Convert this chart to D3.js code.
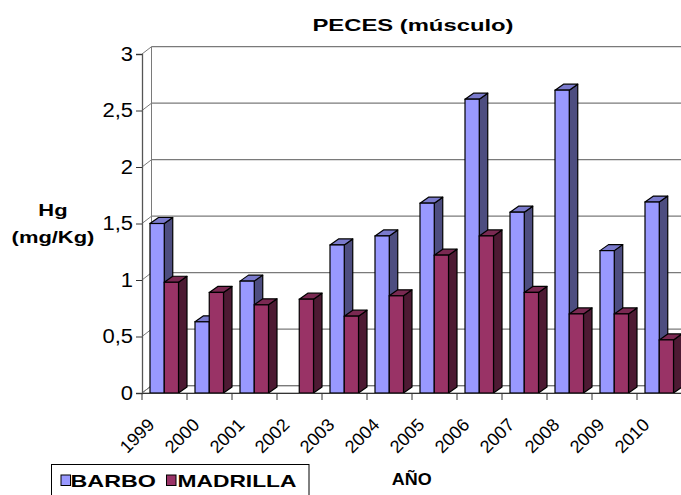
<!DOCTYPE html>
<html>
<head>
<meta charset="utf-8">
<script src="https://cdn.jsdelivr.net/npm/d3@7"></script>
<style>
  body { margin: 0; background: #fff; }
  text { font-family: "Liberation Sans", Arial, sans-serif; }
</style>
</head>
<body>
<div id="chart"></div>
<script>
// data
var years = ["1999", "2000", "2001", "2002", "2003", "2004", "2005", "2006", "2007", "2008", "2009", "2010"];
var barbo = [1.50, 0.63, 0.99, null, 1.31, 1.39, 1.68, 2.60, 1.60, 2.68, 1.26, 1.69];
var madrilla = [0.98, 0.89, 0.78, 0.83, 0.68, 0.86, 1.22, 1.39, 0.89, 0.70, 0.70, 0.47];
var seriesNames = ["BARBO", "MADRILLA"];
var yTicks = [0, 0.5, 1, 1.5, 2, 2.5, 3];

var W = 681, H = 495;
var colors = {
  BARBO:    {front: "#9999FF", side: "#4D4D80", top: "#7A7ACC"},
  MADRILLA: {front: "#993366", side: "#4D1A33", top: "#7A2952"}
};
// depth of the back wall and of the bars
var wallDx = 9.5, wallDy = -7.3;
var barDx = 8.5, barDy = -6;

var svg = d3.select("#chart")
  .append("svg")
    .attr("width", W)
    .attr("height", H);

var x = d3.scaleBand()
  .domain(years)
  .range([142, 682]);

var xs = d3.scaleBand()
  .domain(seriesNames)
  .range([8, 36.5]);

var y = d3.scaleLinear()
  .domain([0, 3])
  .range([393, 54]);

// stretch a text to a wider look like the original
function stretch(sel, k) {
  sel.each(function() {
    var len = this.getComputedTextLength();
    d3.select(this).attr("textLength", len * k).attr("lengthAdjust", "spacingAndGlyphs");
  });
}

var x0 = x.range()[0];
var gridColor = "#7a7a7a";

// floor
svg.append("polygon")
  .attr("points", [[x0, y(0)], [W + 5, y(0)], [W + 5, y(0) + wallDy], [x0 + wallDx, y(0) + wallDy]].join(" "))
  .attr("fill", "#fff")
  .attr("stroke", gridColor)
  .attr("stroke-width", 1);

// back wall gridlines and side wall diagonals
var grid = svg.append("g");
grid.selectAll("line.h")
  .data(yTicks)
  .enter()
  .append("line")
    .attr("x1", x0 + wallDx)
    .attr("x2", W)
    .attr("y1", function(d) { return y(d) + wallDy; })
    .attr("y2", function(d) { return y(d) + wallDy; })
    .attr("stroke", gridColor)
    .attr("stroke-width", 1.3);
grid.selectAll("line.d")
  .data(yTicks)
  .enter()
  .append("line")
    .attr("x1", x0)
    .attr("x2", x0 + wallDx)
    .attr("y1", function(d) { return y(d); })
    .attr("y2", function(d) { return y(d) + wallDy; })
    .attr("stroke", gridColor)
    .attr("stroke-width", 1);
grid.append("line")
  .attr("x1", x0 + wallDx).attr("x2", x0 + wallDx)
  .attr("y1", y(3) + wallDy).attr("y2", y(0) + wallDy)
  .attr("stroke", gridColor).attr("stroke-width", 1);

// 3D bars
function drawSeries(name, values) {
  var c = colors[name];
  var g = svg.append("g");
  var bars = years.map(function(yr, i) { return {year: yr, v: values[i]}; })
    .filter(function(d) { return d.v != null; });
  var bar = g.selectAll("g")
    .data(bars)
    .enter()
    .append("g");
  bar.append("polygon")
    .attr("points", function(d) {
      var xl = x(d.year) + xs(name), xr = xl + xs.bandwidth(), yt = y(d.v), yb = y(0);
      return [[xr, yt], [xr + barDx, yt + barDy], [xr + barDx, yb + barDy], [xr, yb]].join(" ");
    })
    .attr("fill", c.side).attr("stroke", "#000").attr("stroke-width", 1.2).attr("stroke-linejoin", "round");
  bar.append("polygon")
    .attr("points", function(d) {
      var xl = x(d.year) + xs(name), xr = xl + xs.bandwidth(), yt = y(d.v);
      return [[xl, yt], [xl + barDx, yt + barDy], [xr + barDx, yt + barDy], [xr, yt]].join(" ");
    })
    .attr("fill", c.top).attr("stroke", "#000").attr("stroke-width", 1.2).attr("stroke-linejoin", "round");
  bar.append("rect")
    .attr("x", function(d) { return x(d.year) + xs(name); })
    .attr("y", function(d) { return y(d.v); })
    .attr("width", xs.bandwidth())
    .attr("height", function(d) { return y(0) - y(d.v); })
    .attr("fill", c.front).attr("stroke", "#000").attr("stroke-width", 1.2);
}
drawSeries("BARBO", barbo);
drawSeries("MADRILLA", madrilla);

// Y axis
var yAxis = svg.append("g")
  .attr("transform", "translate(" + x0 + ",0)")
  .call(d3.axisLeft(y).tickValues(yTicks).tickSize(6).tickPadding(3)
    .tickFormat(function(d) { return String(d).replace(".", ","); }));
yAxis.select(".domain").attr("stroke", "#555").attr("stroke-width", 1.3);
yAxis.selectAll(".tick line").attr("stroke", "#333");
yAxis.selectAll(".tick text")
  .attr("font-family", "Liberation Sans, Arial, sans-serif")
  .style("font-size", "20px").attr("fill", "#000");
stretch(yAxis.selectAll(".tick text"), 1.1);

// X axis
var xAxis = svg.append("g")
  .attr("transform", "translate(0," + y(0) + ")")
  .call(d3.axisBottom(x).tickSize(0).tickFormat(""));
xAxis.select(".domain").attr("stroke", "#333").attr("stroke-width", 1.2);
xAxis.selectAll("line.bnd")
  .data(years.concat(["end"]))
  .enter()
  .append("line")
    .attr("x1", function(d, i) { return x0 + i * x.step(); })
    .attr("x2", function(d, i) { return x0 + i * x.step(); })
    .attr("y1", 0).attr("y2", 7)
    .attr("stroke", "#333");
svg.append("g").selectAll("text")
  .data(years)
  .enter()
  .append("text")
    .attr("transform", function(d) {
      return "translate(" + (x(d) + x.bandwidth() / 2 - 9) + "," + 426 + ") rotate(-45)";
    })
    .attr("text-anchor", "end")
    .style("font-size", "18px")
    .text(function(d) { return d; });

// title
var title = svg.append("text")
  .attr("x", 413).attr("y", 30.5)
  .attr("text-anchor", "middle")
  .style("font-size", "17px").style("font-weight", "bold")
  .text("PECES (músculo)");
stretch(title, 1.4);

// y label
var yl = svg.append("text")
  .attr("text-anchor", "middle")
  .style("font-size", "17px").style("font-weight", "bold");
yl.append("tspan").attr("x", 53).attr("y", 216).text("Hg");
yl.append("tspan").attr("x", 53).attr("y", 243).text("(mg/Kg)");
yl.selectAll("tspan").each(function() {
  var len = this.getComputedTextLength();
  d3.select(this).attr("textLength", len * 1.29).attr("lengthAdjust", "spacingAndGlyphs");
});

// x label
var xt = svg.append("text")
  .attr("x", 411.7).attr("y", 485)
  .attr("text-anchor", "middle")
  .style("font-size", "16px").style("font-weight", "bold")
  .text("AÑO");
stretch(xt, 1.12);

// legend
var legend = svg.append("g");
legend.append("rect")
  .attr("x", 51.5).attr("y", 464.5)
  .attr("width", 257.5).attr("height", 40)
  .attr("fill", "#fff").attr("stroke", "#000").attr("stroke-width", 1);
var legX = [61, 166.5];
var legText = [70.5, 177.5];
seriesNames.forEach(function(name, i) {
  legend.append("rect")
    .attr("x", legX[i]).attr("y", 475)
    .attr("width", 9.5).attr("height", 10.5)
    .attr("fill", colors[name].front).attr("stroke", "#000").attr("stroke-width", 1);
  var t = legend.append("text")
    .attr("x", legText[i]).attr("y", 487.3)
    .style("font-size", "17px").style("font-weight", "bold")
    .text(name);
  stretch(t, i === 0 ? 1.37 : 1.34);
});
</script>
</body>
</html>
